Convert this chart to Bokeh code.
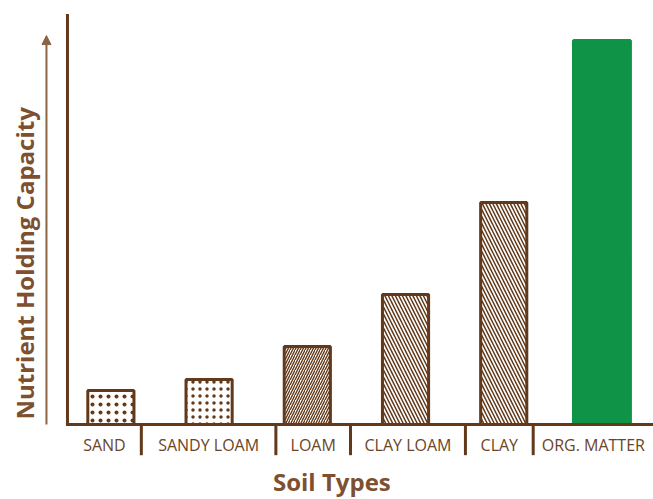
import math
from bokeh.plotting import figure
from bokeh.models import Range1d, Arrow, NormalHead, ColumnDataSource
from bokeh.core.properties import value
from bokeh.embed import file_html
from bokeh.resources import INLINE

# ---- data ----
categories = ["SAND", "SANDY LOAM", "LOAM", "CLAY LOAM", "CLAY", "ORG. MATTER"]
capacity = [8.3, 11.0, 19.1, 31.8, 54.3, 93.9]
# boundaries between the category label cells on the x axis
separators = [0.31, 1.68, 2.44, 3.61, 4.30]
y_title = "Nutrient Holding Capacity"
x_title = "Soil Types"

# ---- styles ----
AXIS = "#62391a"
TEXT = "#6a4526"
TITLE = "#7d5030"
ARROW = "#8d6441"
GREEN = "#0f9447"
patterns = [".", ".", "/", "\\", "\\", " "]
hatch_scales = [8, 7, 5, 7, 7, 6]
hatch_weights = [0.8, 0.8, 1.4, 1.5, 1.5, 1.0]
fills = ["white", "white", "white", "white", "white", GREEN]
lines = [AXIS, AXIS, AXIS, AXIS, AXIS, GREEN]
widths = [0.47, 0.47, 0.47, 0.47, 0.47, 0.58]

# layout constants (data units)
X_START, X_END = -1.124, 5.525
Y_START, Y_END = -18.34, 103.67
YAXIS_X = -0.442
YAXIS_TOP = 100.0
ARROW_X = -0.656
ARROW_TOP = 95.1
YLABEL_X = -0.880
YLABEL_Y = 39.4
SEP_BOTTOM = -7.5
CAT_BASELINE = -5.13
XLABEL_X = 2.25
XLABEL_BASELINE = -13.94

src = ColumnDataSource(dict(
    x=list(range(len(categories))), top=capacity, cat=categories,
    pat=patterns, hs=hatch_scales, hw=hatch_weights, fill=fills, line=lines, w=widths,
))

p = figure(width=653, height=499, output_backend="svg", toolbar_location=None,
           x_range=Range1d(X_START, X_END), y_range=Range1d(Y_START, Y_END),
           min_border=0, outline_line_color=None,
           background_fill_color="white", border_fill_color="white",
           x_axis_location=None, y_axis_location=None)
p.grid.visible = False

p.vbar(x="x", top="top", width="w", bottom=0, source=src,
       fill_color="fill", line_color="line", line_width=3,
       hatch_pattern="pat", hatch_color=AXIS, hatch_scale="hs", hatch_weight="hw")

# axis lines
p.segment(x0=[YAXIS_X, YAXIS_X], y0=[0, 0], x1=[YAXIS_X, X_END], y1=[YAXIS_TOP, 0],
          line_color=AXIS, line_width=3, line_cap="square")

# separators between category cells
p.segment(x0=separators, y0=[0] * len(separators), x1=separators,
          y1=[SEP_BOTTOM] * len(separators), line_color=AXIS, line_width=3)

# category labels, centred in their cells
bounds = [YAXIS_X] + separators + [X_END]
cell_mid = [(a + b) / 2 for a, b in zip(bounds[:-1], bounds[1:])]
p.text(x=cell_mid, y=[CAT_BASELINE] * len(categories), text=categories,
       text_font=value("Open Sans"), text_font_size="16px", text_color=TEXT,
       text_align="center", text_baseline="alphabetic")

# x title
p.text(x=[XLABEL_X], y=[XLABEL_BASELINE], text=[x_title],
       text_font=value("Open Sans"), text_font_style="bold", text_font_size="24px",
       text_color=TITLE, text_align="center", text_baseline="alphabetic")

# arrow beside y axis
p.add_layout(Arrow(end=NormalHead(size=9, fill_color=ARROW, line_color=ARROW),
                   x_start=ARROW_X, y_start=0, x_end=ARROW_X, y_end=ARROW_TOP,
                   line_color=ARROW, line_width=2))

# y title
p.text(x=[YLABEL_X], y=[YLABEL_Y], text=[y_title], angle=math.pi / 2,
       text_font=value("Open Sans"), text_font_style="bold", text_font_size="24px",
       text_color=TITLE, text_align="center", text_baseline="alphabetic")

open("out.html", "w").write(file_html(p, INLINE))
